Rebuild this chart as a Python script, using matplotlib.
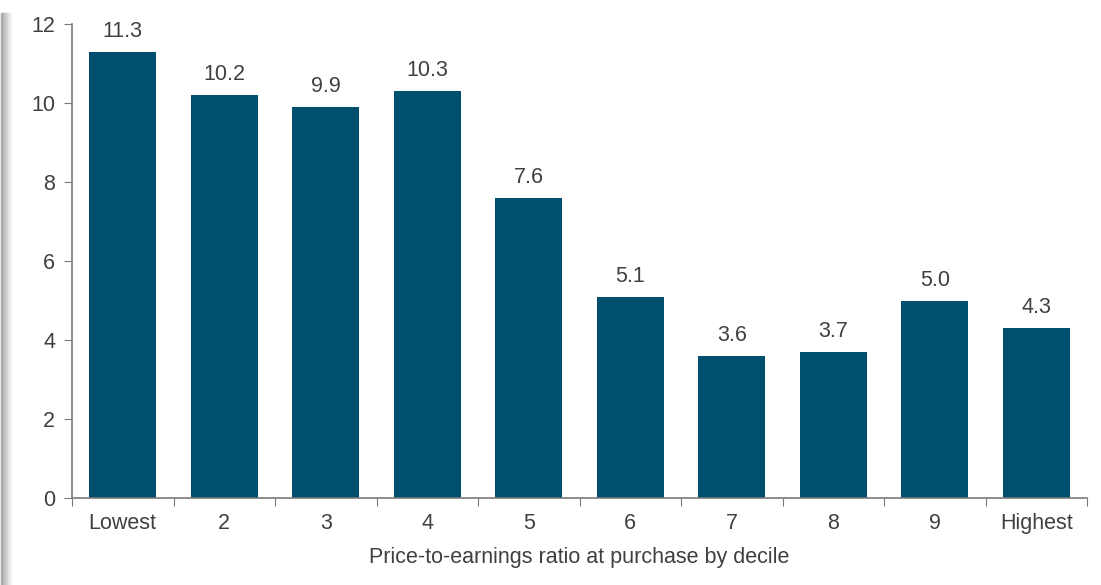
import matplotlib.pyplot as plt
from matplotlib.patches import Rectangle
import numpy as np

plt.rcParams['font.family'] = ['Liberation Sans', 'DejaVu Sans']

deciles = ['Lowest', '2', '3', '4', '5', '6', '7', '8', '9', 'Highest']
values = [11.3, 10.2, 9.9, 10.3, 7.6, 5.1, 3.6, 3.7, 5.0, 4.3]

bar_color = '#004F6E'
text_color = '#404040'
axis_color = '#7a7a7a'

fig = plt.figure(figsize=(11.01, 5.85), dpi=100)
ax = fig.add_axes([72 / 1101, 87 / 585, (1087 - 72) / 1101, (498 - 24) / 585])

x = np.arange(len(deciles))
bars = ax.bar(x, values, width=0.66, color=bar_color)

for b, v in zip(bars, values):
    ax.annotate(f'{v:.1f}', (b.get_x() + b.get_width() / 2, v),
                xytext=(0, 7), textcoords='offset points',
                ha='center', va='bottom', fontsize=15.5, color=text_color)

ax.set_xlim(-0.5, len(deciles) - 0.5)
ax.set_ylim(0, 12)
ax.set_yticks(range(0, 13, 2))

# category boundaries carry the tick marks, labels sit in the middle
ax.set_xticks(np.arange(-0.5, len(deciles), 1.0))
ax.set_xticklabels([])
ax.set_xticks(x, minor=True)
ax.set_xticklabels(deciles, minor=True)
ax.tick_params(axis='x', which='major', length=6, color=axis_color, direction='out')
ax.tick_params(axis='x', which='minor', length=0, pad=11, labelsize=15.5, labelcolor=text_color)
ax.tick_params(axis='y', length=6, color=axis_color, labelsize=15.5, labelcolor=text_color, pad=6)

for s in ['top', 'right']:
    ax.spines[s].set_visible(False)
for s in ['left', 'bottom']:
    ax.spines[s].set_color(axis_color)
    ax.spines[s].set_linewidth(1.2)

ax.set_xlabel('Price-to-earnings ratio at purchase by decile', fontsize=15.5,
              color=text_color, labelpad=9)

# shadow strip on the left edge
grays = ['#a8a8a8', '#b4b4b4', '#c2c2c2', '#d2d2d2', '#e2e2e2', '#f0f0f0']
for i, g in enumerate(grays):
    fig.patches.append(Rectangle(((1 + i * 1.7) / 1101, 0), 1.7 / 1101, 572 / 585,
                                 transform=fig.transFigure, color=g, zorder=0))

fig.savefig('out.png', dpi=100)
